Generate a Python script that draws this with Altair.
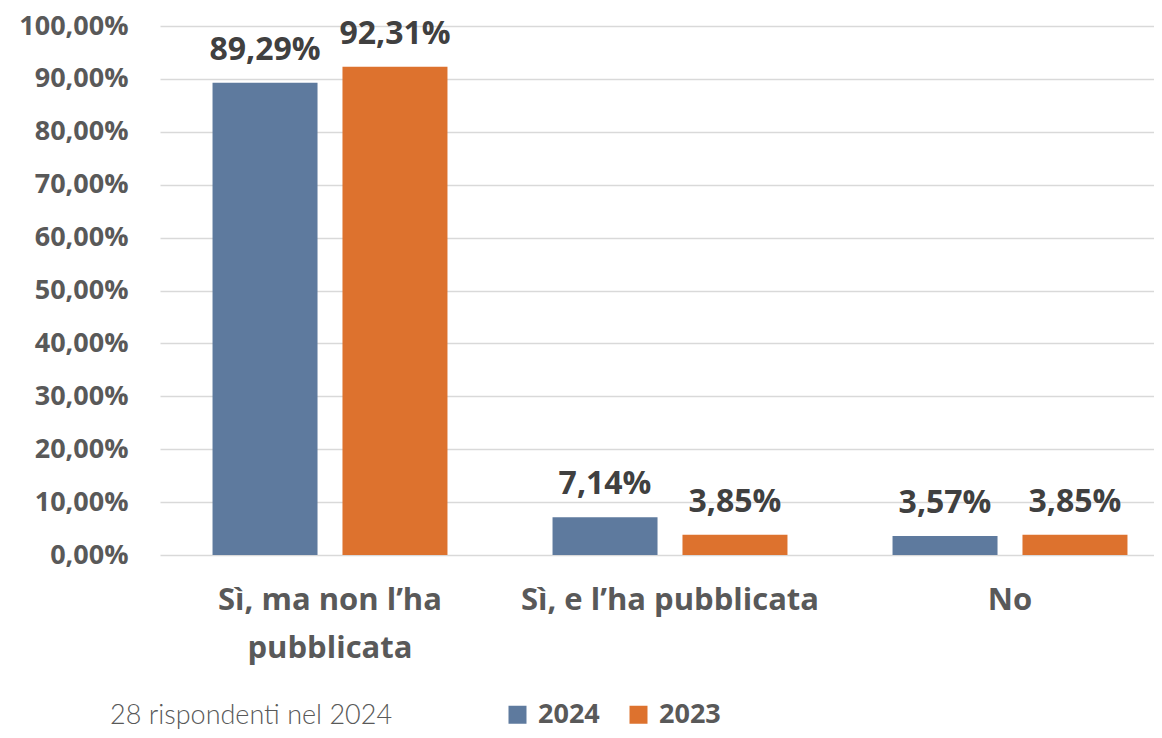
import altair as alt
import pandas as pd

categories = ["Sì, ma non l’ha pubblicata", "Sì, e l’ha pubblicata", "No"]
years = ["2024", "2023"]
v2024 = [89.29, 7.14, 3.57]
v2023 = [92.31, 3.85, 3.85]
colors = ["#5E7A9E", "#DD722E"]
note = "28 rispondenti nel 2024"

rows = []
for c, a, b in zip(categories, v2024, v2023):
    rows.append({"cat": c, "year": "2024", "v": a})
    rows.append({"cat": c, "year": "2023", "v": b})
df = pd.DataFrame(rows)

FONT = "Open Sans"

x = alt.X("cat:N", sort=categories, title=None,
          scale=alt.Scale(range=[0, 1020], paddingInner=0.309, paddingOuter=0.1545),
          axis=alt.Axis(domain=False, ticks=False, labelAngle=0, labelPadding=30,
                        labelFont=FONT, labelFontSize=31, labelFontWeight="bold",
                        labelColor="#595959", labelLineHeight=48, labelBaseline="top",
                        labelLimit=400,
                        labelExpr="datum.label == 'Sì, ma non l’ha pubblicata' ? ['Sì, ma non l’ha', 'pubblicata'] : datum.label"))
xo = alt.XOffset("year:N", sort=years,
                 scale=alt.Scale(domain=years, paddingInner=0.192, paddingOuter=0))
y = alt.Y("v:Q", title=None,
          scale=alt.Scale(domain=[0, 100], nice=False),
          axis=alt.Axis(values=list(range(0, 101, 10)), domain=False, ticks=False,
                        labelPadding=32, labelFont=FONT, labelFontSize=27,
                        labelFontWeight="bold", labelColor="#595959",
                        gridColor="#D9D9D9", gridWidth=1.5,
                        labelExpr="replace(format(datum.value, '.2f'), '.', ',') + '%'"))
color = alt.Color("year:N", sort=years,
                  scale=alt.Scale(domain=years, range=colors),
                  legend=alt.Legend(title=None, orient="none", legendX=344, legendY=675,
                                    direction="horizontal", symbolType="square",
                                    symbolSize=324, symbolStrokeWidth=0,
                                    labelFont=FONT, labelFontSize=27,
                                    labelFontWeight="bold", labelColor="#595959",
                                    columnPadding=25, labelOffset=7))

base = alt.Chart(df)
bars = base.mark_bar().encode(x=x, xOffset=xo, y=y, color=color)
labels = base.transform_calculate(
    lab="replace(format(datum.v, '.2f'), '.', ',') + '%'"
).mark_text(baseline="alphabetic", dy=-23, font=FONT, fontSize=32,
            fontWeight="bold", color="#404040").encode(
    x=alt.X("cat:N", sort=categories), xOffset=alt.XOffset("year:N", sort=years),
    y="v:Q", text="lab:N")

foot = alt.Chart(pd.DataFrame({"t": [note]})).mark_text(
    align="left", baseline="alphabetic", font="Lato", fontSize=27, fontWeight=300,
    color="#595959").encode(text="t:N", x=alt.value(-50), y=alt.value(698))

chart = alt.layer(bars, labels, foot).properties(
    width=994, height=529,
    autosize=alt.AutoSizeParams(type="none"),
    padding={"left": 152, "top": 18, "right": 0, "bottom": 175},
).configure_view(stroke=None)

chart.save("out.html", embed_options={"renderer": "svg", "actions": False})
